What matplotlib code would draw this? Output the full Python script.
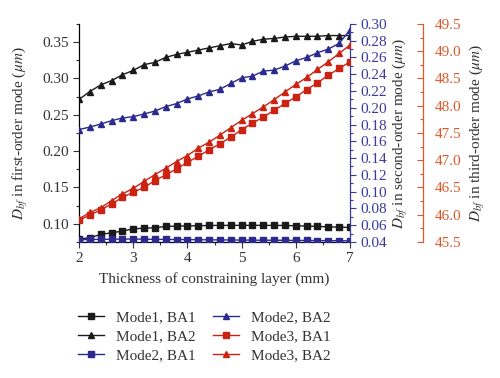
import numpy as np
import matplotlib
matplotlib.use("Agg")
import matplotlib.pyplot as plt
from matplotlib.ticker import MultipleLocator, FormatStrFormatter

plt.rcParams['font.family'] = ['Liberation Serif', 'DejaVu Serif']
plt.rcParams['mathtext.fontset'] = 'stix'

thickness = [2.0, 2.2, 2.4, 2.6, 2.8, 3.0, 3.2, 3.4, 3.6, 3.8, 4.0, 4.2, 4.4,
             4.6, 4.8, 5.0, 5.2, 5.4, 5.6, 5.8, 6.0, 6.2, 6.4, 6.6, 6.8, 7.0]

mode1_ba1 = [0.079, 0.0807, 0.0853, 0.0876, 0.0898, 0.093, 0.0939, 0.0945, 0.0963,
             0.0967, 0.0972, 0.0972, 0.0977, 0.0977, 0.0978, 0.0978, 0.0978, 0.0978,
             0.0977, 0.0977, 0.0972, 0.0968, 0.0963, 0.0958, 0.0953, 0.0949]
mode1_ba2 = [0.271, 0.282, 0.291, 0.297, 0.305, 0.311, 0.319, 0.322, 0.329, 0.333,
             0.336, 0.339, 0.342, 0.345, 0.348, 0.346, 0.351, 0.354, 0.355, 0.357,
             0.358, 0.358, 0.358, 0.359, 0.359, 0.359]
mode2_ba1 = [0.0425, 0.043, 0.043, 0.0432, 0.0433, 0.0435, 0.0433, 0.043, 0.043,
             0.0428, 0.0428, 0.0426, 0.0425, 0.0424, 0.0423, 0.0422, 0.0421, 0.042,
             0.042, 0.0419, 0.0418, 0.0417, 0.0416, 0.0415, 0.0414, 0.0413]
mode2_ba2 = [0.174, 0.177, 0.1806, 0.1846, 0.1878, 0.1894, 0.1926, 0.1961, 0.2014,
             0.205, 0.2105, 0.2141, 0.2189, 0.222, 0.229, 0.2357, 0.2377, 0.2437,
             0.2449, 0.2497, 0.256, 0.26, 0.2656, 0.27, 0.2768, 0.2928]
mode3_ba1 = [45.9, 45.99, 46.09, 46.195, 46.317, 46.41, 46.5, 46.625, 46.73, 46.84,
             46.96, 47.07, 47.19, 47.3, 47.423, 47.56, 47.68, 47.79, 47.915, 48.04,
             48.16, 48.296, 48.418, 48.56, 48.683, 48.805]
mode3_ba2 = [45.92, 46.04, 46.127, 46.256, 46.38, 46.483, 46.61, 46.735, 46.85, 46.975,
             47.085, 47.22, 47.33, 47.46, 47.596, 47.73, 47.854, 47.976, 48.11, 48.252,
             48.39, 48.517, 48.665, 48.805, 48.96, 49.113]

labels = ["Mode1, BA1", "Mode1, BA2", "Mode2, BA1", "Mode2, BA2", "Mode3, BA1", "Mode3, BA2"]

c_black = '#1a1a1a'
c_blue = '#2b2a8e'
c_red = '#cc2211'
c_axis3 = '#e0582a'
c_axis2 = '#3a3a9e'

fig = plt.figure(figsize=(5, 3.78), dpi=100)
ax1 = fig.add_axes([0.158, 0.36, 0.542, 0.5767])
ax2 = ax1.twinx()
ax3 = ax1.twinx()
ax3.spines['right'].set_position(('axes', 1.27))

ms_sq = 4
ms_tr = 5
lw = 1.0
h = []
h += ax1.plot(thickness, mode1_ba1, color=c_black, marker='s', ms=ms_sq, lw=lw)
h += ax1.plot(thickness, mode1_ba2, color=c_black, marker='^', ms=ms_tr, lw=lw)
h += ax2.plot(thickness, mode2_ba1, color=c_blue, marker='s', ms=ms_sq, lw=lw)
h += ax2.plot(thickness, mode2_ba2, color=c_blue, marker='^', ms=ms_tr, lw=lw)
h += ax3.plot(thickness, mode3_ba1, color=c_red, marker='s', ms=ms_sq, lw=lw)
h += ax3.plot(thickness, mode3_ba2, color=c_red, marker='^', ms=ms_tr, lw=lw)

ax1.set_xlim(2, 7)
ax1.set_ylim(0.075, 0.375)
ax2.set_ylim(0.04, 0.30)
ax3.set_ylim(45.5, 49.5)

for a in (ax1, ax2, ax3):
    a.spines['top'].set_visible(False)
ax1.spines['right'].set_visible(False)
ax2.spines['left'].set_visible(False)
ax2.spines['bottom'].set_visible(False)
ax3.spines['left'].set_visible(False)
ax3.spines['bottom'].set_visible(False)
ax2.spines['right'].set_color(c_axis2)
ax3.spines['right'].set_color(c_axis3)
for a in (ax1, ax2, ax3):
    for s in a.spines.values():
        s.set_linewidth(0.9)

ax1.xaxis.set_major_locator(MultipleLocator(1))
ax1.xaxis.set_minor_locator(MultipleLocator(0.5))
ax1.yaxis.set_major_locator(MultipleLocator(0.05))
ax1.yaxis.set_minor_locator(MultipleLocator(0.025))
ax1.yaxis.set_major_formatter(FormatStrFormatter('%.2f'))
ax2.yaxis.set_major_locator(MultipleLocator(0.02))
ax2.yaxis.set_minor_locator(MultipleLocator(0.01))
ax2.yaxis.set_major_formatter(FormatStrFormatter('%.2f'))
ax3.yaxis.set_major_locator(MultipleLocator(0.5))
ax3.yaxis.set_minor_locator(MultipleLocator(0.25))
ax3.yaxis.set_major_formatter(FormatStrFormatter('%.1f'))

fs = 11
ax1.tick_params(axis='both', which='major', labelsize=fs, direction='out', length=4, width=0.8, colors='#333333')
ax1.tick_params(axis='both', which='minor', direction='out', length=2.5, width=0.8, colors='#333333')
ax2.tick_params(axis='y', which='major', labelsize=fs, direction='out', length=4, width=0.8, colors=c_axis2)
ax2.tick_params(axis='y', which='minor', direction='out', length=2.5, width=0.8, colors=c_axis2)
ax3.tick_params(axis='y', which='major', labelsize=fs, direction='in', length=4, width=0.8, colors=c_axis3, pad=8)
ax3.tick_params(axis='y', which='minor', direction='in', length=2.5, width=0.8, colors=c_axis3)

ax1.set_xlabel('Thickness of constraining layer (mm)', fontsize=fs, color='#333333', labelpad=5)
ax1.set_ylabel(r'$D_{bf}$ in first-order mode ($\mu m$)', fontsize=fs, color='#333333')
ax2.set_ylabel(r'$D_{bf}$ in second-order mode ($\mu m$)', fontsize=fs, color='#333333')
ax3.set_ylabel(r'$D_{bf}$ in third-order mode ($\mu m$)', fontsize=fs, color='#333333')
ax1.yaxis.set_label_coords(-0.18, 0.5)
ax2.yaxis.set_label_coords(1.15, 0.5)
ax3.yaxis.set_label_coords(1.435, 0.5)

leg = fig.legend(h, labels, ncol=2, loc='upper left', bbox_to_anchor=(0.129, 0.215),
                 frameon=False, fontsize=fs, handlelength=1.7, numpoints=1,
                 columnspacing=1.1, labelspacing=0.35, handletextpad=0.8,
                 labelcolor='#333333')

fig.savefig('out.png', dpi=100)
